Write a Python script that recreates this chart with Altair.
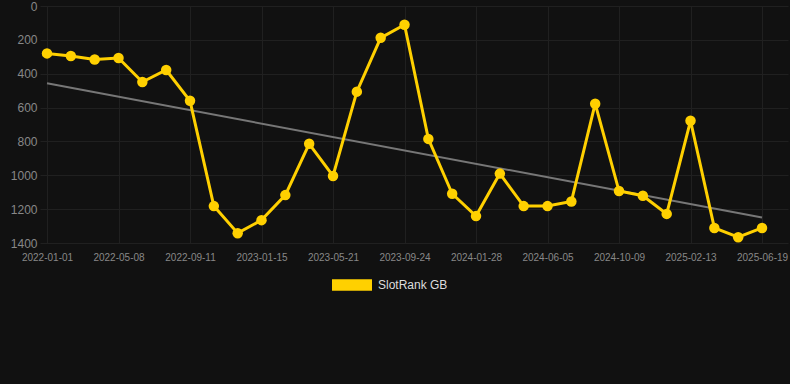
import altair as alt
import pandas as pd

dates = [
    "2022-01-01", "2022-02-12", "2022-03-26", "2022-05-08", "2022-06-19",
    "2022-07-31", "2022-09-11", "2022-10-23", "2022-12-04", "2023-01-15",
    "2023-02-26", "2023-04-09", "2023-05-21", "2023-07-02", "2023-08-13",
    "2023-09-24", "2023-11-05", "2023-12-17", "2024-01-28", "2024-03-10",
    "2024-04-21", "2024-06-05", "2024-07-17", "2024-08-28", "2024-10-09",
    "2024-11-20", "2025-01-01", "2025-02-13", "2025-03-27", "2025-05-08",
    "2025-06-19",
]
ranks = [
    280, 295, 316, 307, 449, 378, 560, 1182, 1342, 1265,
    1117, 814, 1004, 506, 188, 111, 785, 1109, 1241, 990,
    1182, 1182, 1155, 577, 1093, 1121, 1228, 678, 1311, 1366,
    1311,
]
series_name = "SlotRank GB"

df = pd.DataFrame({
    "idx": list(range(len(dates))),
    "date": dates,
    "rank": ranks,
    "series": [series_name] * len(dates),
})

label_array = "[" + ",".join("'" + d + "'" for d in dates) + "]"

YELLOW = "#FFD000"
GRID = "#202020"

x_enc = alt.X(
    "idx:Q",
    scale=alt.Scale(domain=[-0.294, 31.09], nice=False, zero=False),
    axis=alt.Axis(
        values=list(range(0, len(dates), 3)),
        labelExpr=label_array + "[datum.value]",
        title=None,
        domain=False,
        ticks=False,
        grid=True,
        gridColor=GRID,
        labelColor="#888888",
        labelFontSize=10,
        labelFont="Arial",
        labelPadding=9,
    ),
)
y_enc = alt.Y(
    "rank:Q",
    scale=alt.Scale(domain=[0, 1400], reverse=True, nice=False),
    axis=alt.Axis(
        values=list(range(0, 1401, 200)),
        format="d",
        title=None,
        domain=False,
        ticks=False,
        grid=True,
        gridColor=GRID,
        labelColor="#888888",
        labelFontSize=12,
        labelFont="Arial",
        labelPadding=3,
    ),
)

color_enc = alt.Color(
    "series:N",
    scale=alt.Scale(domain=[series_name], range=[YELLOW]),
    legend=alt.Legend(
        title=None,
        orient="none",
        legendX=292,
        legendY=259,
        symbolType="M-1,-0.285H1V0.285H-1Z",
        symbolSize=1600,
        symbolStrokeWidth=0,
        symbolOpacity=1,
        labelColor="#dddddd",
        labelFontSize=12,
        labelFont="Arial",
        labelOffset=6,
    ),
)

base = alt.Chart(df)

trend = base.transform_regression("idx", "rank").mark_line(
    color="#777777", strokeWidth=2
).encode(x=x_enc, y=y_enc)

line = base.mark_line(strokeWidth=3).encode(x=x_enc, y=y_enc, color=color_enc)
points = base.mark_point(filled=True, size=110, opacity=1).encode(
    x=x_enc, y=y_enc, color=alt.Color("series:N", scale=alt.Scale(domain=[series_name], range=[YELLOW]), legend=None)
)

chart = (
    alt.layer(trend, line, points)
    .properties(
        width=748,
        height=237,
        background="#111111",
        autosize=alt.AutoSizeParams(type="none"),
        padding={"left": 40, "top": 6, "right": 2, "bottom": 141},
    )
    .configure_view(stroke=None)
)

chart.save("out.html", embed_options={"renderer": "svg", "actions": False})
